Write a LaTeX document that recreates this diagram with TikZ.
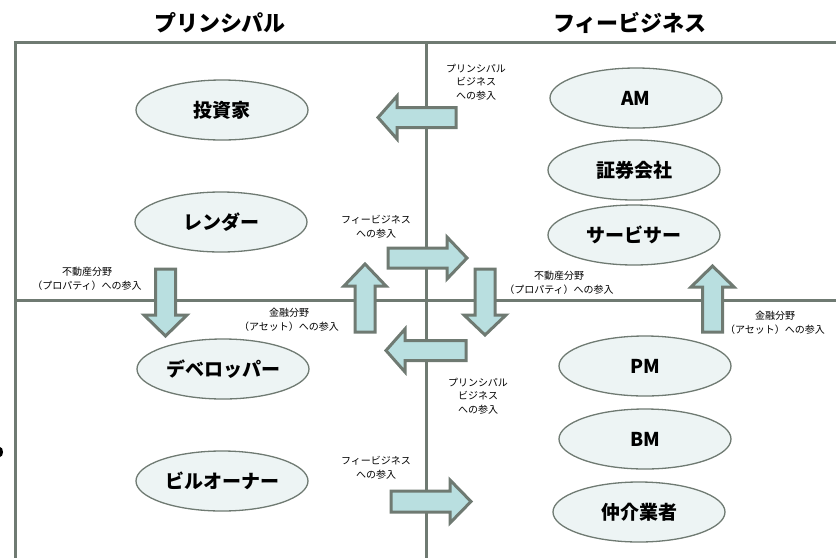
\documentclass[tikz,border=0pt]{standalone}
\usepackage{fontspec}
\newfontfamily\jp{Noto Sans CJK JP}
\usetikzlibrary{shapes.geometric}
\definecolor{linegray}{HTML}{6F7A72}
\definecolor{arrowfill}{HTML}{B9DFE0}
\definecolor{ellfill}{HTML}{EDF4F4}
\tikzset{
  frameline/.style={draw=linegray, line width=3pt},
  blockarrow/.style={fill=arrowfill, draw=linegray, line width=3pt, line join=miter},
  ell/.style={ellipse, draw=linegray, line width=1.3pt, fill=ellfill, minimum width=172pt, minimum height=60pt, inner sep=0pt, font=\jp\bfseries\fontsize{19}{22}\selectfont},
  title/.style={font=\jp\bfseries\fontsize{22}{24}\selectfont, inner sep=0pt},
  lbl/.style={align=center, font=\jp\fontsize{10}{13.5}\selectfont, inner sep=0pt}
}
\begin{document}
\begin{tikzpicture}[x=1pt, y=-1pt]
\useasboundingbox (0,0) rectangle (836,558);
% frame
\coordinate (tl) at (15.5,42);
\coordinate (tr) at (836,42);
\coordinate (bl) at (15.5,558);
\coordinate (ml) at (15.5,300);
\coordinate (mr) at (836,300);
\coordinate (mt) at (426,42);
\coordinate (mb) at (426,558);
\draw[frameline] (tr) -- (tl) -- (bl);
\draw[frameline] (ml) -- (mr);
\draw[frameline] (mt) -- (mb);
% cropped glyph at left edge
\fill[black] (0,452) ellipse [x radius=3, y radius=5];
% titles
\node[title] (t1) at (220,23) {プリンシパル};
\node[title] (t2) at (630,23) {フィービジネス};
% block arrows
% left, top
\draw[blockarrow] (456,107.5) -- (397,107.5) -- (397,96) -- (378,117.5) -- (397,139) -- (397,127.5) -- (456,127.5) -- cycle;
% right, upper
\draw[blockarrow] (388,248) -- (447,248) -- (447,237) -- (467,258) -- (447,279) -- (447,268) -- (388,268) -- cycle;
% left, lower
\draw[blockarrow] (466,340.5) -- (405,340.5) -- (405,329) -- (386,350.5) -- (405,372) -- (405,360.5) -- (466,360.5) -- cycle;
% right, bottom
\draw[blockarrow] (391,491) -- (450,491) -- (450,480) -- (471,501.5) -- (450,523) -- (450,512) -- (391,512) -- cycle;
% up, centre left
\draw[blockarrow] (355,332) -- (355,286) -- (344,286) -- (365,264) -- (386,286) -- (375,286) -- (375,332) -- cycle;
% down, centre right
\draw[blockarrow] (475,269) -- (475,315) -- (464,315) -- (485,335) -- (506,315) -- (495,315) -- (495,269) -- cycle;
% down, left
\draw[blockarrow] (155.5,269) -- (155.5,315) -- (144,315) -- (165.5,336) -- (187,315) -- (175.5,315) -- (175.5,269) -- cycle;
% up, right
\draw[blockarrow] (702.5,332) -- (702.5,287) -- (691,287) -- (712.5,266) -- (734,287) -- (722.5,287) -- (722.5,332) -- cycle;
% labels
\node[lbl] (l1) at (476,82) {プリンシパル\\ビジネス\\への参入};
\node[lbl] (l2) at (376,227) {フィービジネス\\への参入};
\node[lbl] (l3) at (87,279) {不動産分野\\（プロパティ）への参入};
\node[lbl] (l4) at (289,320) {金融分野\\（アセット）への参入};
\node[lbl] (l5) at (559,283) {不動産分野\\（プロパティ）への参入};
\node[lbl] (l6) at (775,323) {金融分野\\（アセット）への参入};
\node[lbl] (l7) at (478,396) {プリンシパル\\ビジネス\\への参入};
\node[lbl] (l8) at (376,468) {フィービジネス\\への参入};
% ellipses, left
\node[ell] (e1) at (222,110) {投資家};
\node[ell] (e2) at (221,222) {レンダー};
\node[ell] (e3) at (223,369) {デベロッパー};
\node[ell] (e4) at (222,481) {ビルオーナー};
% ellipses, right
\node[ell] (r1) at (636,98) {AM};
\node[ell] (r2) at (634,170) {証券会社};
\node[ell] (r3) at (634,235) {サービサー};
\node[ell] (r4) at (645,366) {PM};
\node[ell] (r5) at (645,439) {BM};
\node[ell] (r6) at (639,512) {仲介業者};
\end{tikzpicture}
\end{document}
